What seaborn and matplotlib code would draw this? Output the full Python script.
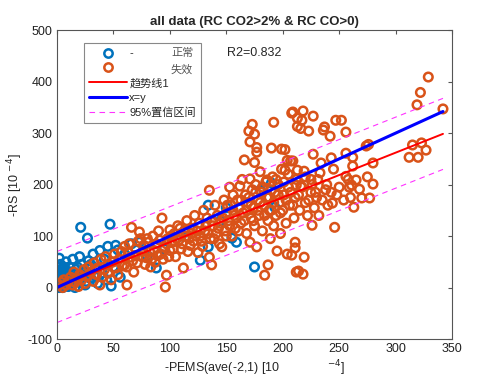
import numpy as np
import pandas as pd
import matplotlib
matplotlib.use("Agg")
import matplotlib.pyplot as plt
import seaborn as sns
from matplotlib.lines import Line2D

# --- datos (x = -PEMS, y = -RS, en 1e-4) ---
normal_x = [0, 0, 0, 0, 0, 1, 1, 1, 1, 1, 2, 2, 2, 2, 2, 3, 3, 3, 4, 4, 5, 5, 5, 6, 6, 7, 7, 8, 8, 9,
            10, 10, 11, 12, 13, 14, 15, 16, 17, 18, 20, 20, 21, 22, 24, 25, 27, 28, 30, 32, 34, 36,
            38, 40, 42, 45, 47, 48, 50, 52, 54, 56, 60, 66, 73, 80, 88, 95, 110, 127, 134, 134, 145,
            150, 155, 159, 175, 180, 190, 193,
            3, 5, 7, 9, 12, 14, 18, 22, 26, 30, 35, 44]
normal_y = [5, 12, 20, 28, 35, 2, 8, 15, 25, 40, 0, 10, 18, 30, 57, 5, 22, 45, 12, 35, 0, 8, 28, 18, 40,
            3, 25, 10, 50, 32, 2, 20, 40, 8, 28, 55, 15, 0, 35, 22, 10, 60, 117, 45, 30, 5, 96, 52, 18,
            65, 38, 8, 72, 28, 55, 80, 123, 3, 40, 82, 73, 20, 65, 85, 88, 62, 38, 75, 100, 53, 160, 79,
            130, 155, 96, 88, 40, 189, 203, 156,
            15, 20, 12, 5, 30, 18, 40, 25, 12, 45, 20, 15]

fallo_x = [2, 4, 5, 6, 8, 10, 12, 14, 15, 16, 18, 19, 20,
           22, 24, 25, 27, 28, 30, 32, 33, 35, 36, 38, 39, 40,
           42, 43, 45, 46, 48, 50, 51, 52, 54, 55, 57, 58, 60, 62, 65, 66, 60,
           63, 67, 70, 72, 73, 75, 77, 78, 80, 82, 84, 85, 87, 88, 90, 92, 93, 95, 96, 97, 98, 100, 100,
           102, 104, 105, 107, 108, 110, 112, 113, 115, 117, 118, 120, 122, 123, 125, 126, 128, 130,
           131, 133, 135, 135, 136, 137, 138, 140, 141, 142, 144, 145, 146, 148, 149, 150,
           152, 153, 154, 155, 156, 157, 158, 160, 161, 162, 163, 164, 165, 166, 167, 168, 169, 170,
           171, 171, 171, 172, 173, 173, 174, 175, 175, 175, 176, 177, 177, 177, 178, 179, 180, 181,
           182, 183, 184, 185, 186, 187, 187, 188, 189, 190, 190, 191, 192, 192, 193, 194, 195, 196,
           197, 198, 199, 199,
           200, 201, 202, 202, 203, 204, 204, 205, 206, 207, 208, 208, 209, 209, 210, 211, 211, 211,
           212, 212, 213, 213, 213, 214, 215, 216, 216, 217, 218, 218, 219, 219, 220, 222, 223, 225,
           225, 226, 227, 227, 228, 230, 232, 233, 234, 236, 237, 238, 240, 242, 243, 244, 245, 246,
           247, 248,
           252, 256, 256, 256, 259, 260, 261, 262, 262, 263, 265, 268, 270, 274, 275, 276, 277, 280,
           280, 312, 315, 319, 320, 322, 323, 327, 329, 342,
           62, 64, 68, 69, 71, 74, 76, 79, 81, 83, 86, 89, 91, 94, 97, 99,
           101, 103, 106, 109, 111, 114, 116, 119, 121, 124, 127, 129, 132, 134, 137, 139, 143, 147, 150,
           151, 153, 156, 159, 161, 163, 166, 168, 170, 172, 174, 176, 178, 180, 182, 184, 186, 188,
           190, 192, 194, 196, 198,
           201, 203, 205, 207, 209, 212, 214, 217, 220, 223, 226, 229, 231, 235, 239, 243, 250, 254, 258]
fallo_y = [5, 10, 0, 15, 5, 12, 20, 5, 30, 10, 18, 2, 25,
           15, 35, 8, 22, 40, 30, 12, 48, 25, 38, 5, 55, 20,
           35, 60, 28, 45, 15, 50, 65, 38, 25, 55, 70, 42, 44, 5, 59, 117, 80,
           68, 52, 75, 90, 108, 60, 82, 45, 95, 70, 55, 100, 49, 85, 110, 65, 135, 78, 1, 24, 95, 112, 72,
           88, 105, 60, 120, 92, 75, 38, 110, 130, 95, 82, 115, 140, 100, 68, 125, 90, 150,
           110, 135, 59, 189, 95, 44, 120, 160, 105, 140, 85, 125, 79, 170, 110, 145,
           130, 195, 160, 100, 180, 140, 115, 170, 155, 197, 125, 210, 145, 248, 180, 105, 165, 304,
           211, 283, 88, 135, 317, 190, 155, 243, 298, 120, 200, 79, 272, 263, 170, 140, 225, 185,
           110, 160, 24, 205, 209, 44, 130, 175, 95, 271, 150, 215, 321, 120, 185, 140, 71, 200,
           165, 105, 269, 230,
           150, 180, 268, 228, 125, 247, 65, 195, 160, 246, 339, 63, 246, 341, 135, 88, 77, 175,
           30, 199, 329, 313, 228, 32, 150, 197, 309, 325, 343, 26, 59, 226, 165, 140, 304, 210,
           185, 121, 333, 259, 155, 175, 140, 223, 242, 306, 312, 190, 160, 294, 252, 164, 230, 117,
           325, 180,
           325, 302, 261, 216, 195, 175, 199, 253, 236, 156, 209, 191, 174, 275, 215, 278, 174, 242,
           201, 253, 277, 355, 253, 379, 281, 267, 409, 347,
           40, 85, 30, 62, 48, 95, 70, 58, 88, 40, 72, 62, 92, 55, 85, 60,
           100, 75, 95, 115, 85, 100, 70, 105, 90, 110, 100, 80, 120, 105, 130, 95, 115, 135, 100,
           160, 120, 150, 135, 110, 170, 130, 150, 175, 160, 130, 185, 150, 165, 195, 140, 175, 150,
           190, 165, 210, 180, 145,
           205, 170, 220, 185, 160, 210, 180, 195, 215, 170, 200, 185, 210, 170, 200, 185, 195, 170, 210]

# recta de tendencia y banda 95%
pendiente = 0.87
ordenada = 1.0
banda = 69.0
x_linea = [0, 342]

xticks = [0, 50, 100, 150, 200, 250, 300, 350]
yticks = [-100, 0, 100, 200, 300, 400, 500]

azul = "#0072BD"
naranja = "#D95319"

sns.set_style("white")
plt.rcParams['font.family'] = ['Liberation Sans', 'Noto Sans CJK SC', 'DejaVu Sans']
plt.rcParams['axes.unicode_minus'] = False

df_n = pd.DataFrame({"x": normal_x, "y": normal_y})
df_f = pd.DataFrame({"x": fallo_x, "y": fallo_y})
xl = np.array(x_linea, dtype=float)
df_l = pd.DataFrame({"x": xl,
                     "trend": ordenada + pendiente * xl,
                     "xy": xl,
                     "up": ordenada + pendiente * xl + banda,
                     "lo": ordenada + pendiente * xl - banda})

fig = plt.figure(figsize=(5, 3.87), dpi=100)
ax = fig.add_axes([0.114, 0.124, 0.79, 0.798])

sns.scatterplot(data=df_n, x="x", y="y", ax=ax, marker="o", s=38,
                facecolors="none", edgecolor=azul, linewidth=1.8)
sns.scatterplot(data=df_f, x="x", y="y", ax=ax, marker="o", s=38,
                facecolors="none", edgecolor=naranja, linewidth=1.8)
sns.lineplot(data=df_l, x="x", y="trend", ax=ax, color="red", linewidth=1.4)
sns.lineplot(data=df_l, x="x", y="xy", ax=ax, color="blue", linewidth=2.2)
sns.lineplot(data=df_l, x="x", y="up", ax=ax, color="#FF33FF", linewidth=0.8, linestyle=(0, (5, 4)))
sns.lineplot(data=df_l, x="x", y="lo", ax=ax, color="#FF33FF", linewidth=0.8, linestyle=(0, (5, 4)))

ax.set_xlim(0, 350)
ax.set_ylim(-100, 500)
ax.set_xticks(xticks)
ax.set_yticks(yticks)
ax.tick_params(direction="in", top=True, right=True, length=3, labelsize=9,
               color="#555555", labelcolor="#222222", pad=3)
for s in ax.spines.values():
    s.set_color("#555555")
    s.set_linewidth(0.8)

ax.set_title("all data (RC CO2>2% & RC CO>0)", fontsize=9.5, fontweight="bold", pad=4)
ax.set_xlabel("-PEMS(ave(-2,1) [10              $^{-4}$]", fontsize=9, labelpad=2)
ax.set_ylabel("-RS [10 $^{-4}$]", fontsize=9, labelpad=2)

ax.text(0.43, 0.925, "R2=0.832", transform=ax.transAxes, fontsize=9, va="center")

handles = [
    Line2D([], [], linestyle="none", marker="o", markersize=6, markerfacecolor="none",
           markeredgecolor=azul, markeredgewidth=1.8),
    Line2D([], [], linestyle="none", marker="o", markersize=6, markerfacecolor="none",
           markeredgecolor=naranja, markeredgewidth=1.8),
    Line2D([], [], color="red", linewidth=1.4),
    Line2D([], [], color="blue", linewidth=2.2),
    Line2D([], [], color="#FF33FF", linewidth=0.8, linestyle=(0, (5, 4))),
]
labels = ["-", " ", "趋势线1", "x=y", "95%置信区间"]
leg = ax.legend(handles, labels, loc="upper left", bbox_to_anchor=(0.055, 0.975),
                fontsize=8, handlelength=3.4, handletextpad=0.2, labelspacing=0.42,
                borderpad=0.45, fancybox=False, framealpha=1, edgecolor="#888888")
leg.get_frame().set_linewidth(0.8)
leg.set_zorder(5)

ax.text(0.345, 0.926, "正常", transform=ax.transAxes, fontsize=8, ha="right", va="center",
        color="#555555", family=['Noto Sans CJK SC'], zorder=10)
ax.text(0.345, 0.873, "失效", transform=ax.transAxes, fontsize=8, ha="right", va="center",
        color="#555555", family=['Noto Sans CJK SC'], zorder=10)

plt.savefig("out.png", dpi=100)
plt.close()
